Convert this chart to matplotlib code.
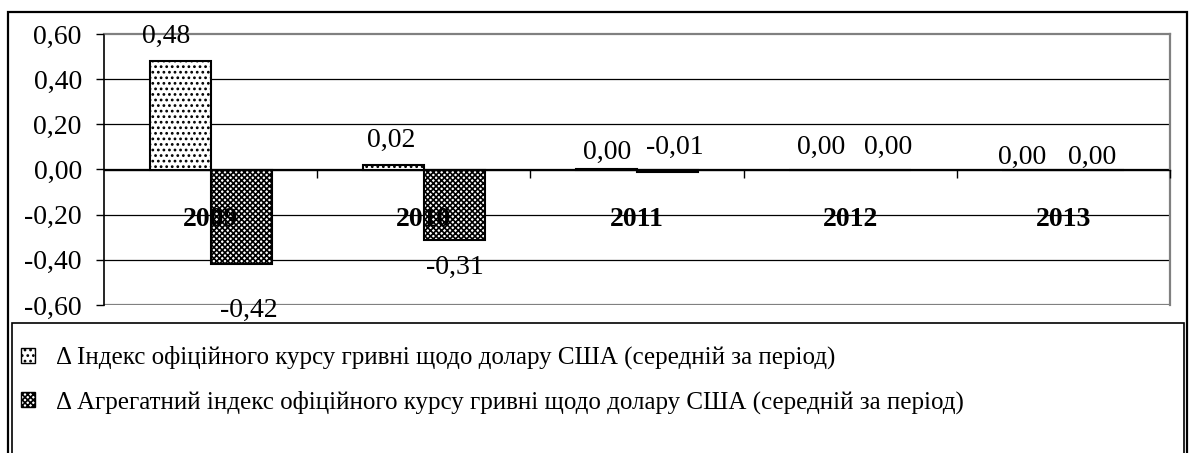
import numpy as np
import matplotlib
matplotlib.use("Agg")
import matplotlib.pyplot as plt
import matplotlib.patches as mpatches
from matplotlib.ticker import FixedLocator, FuncFormatter

plt.rcParams['font.family'] = ['Liberation Serif', 'DejaVu Serif']
plt.rcParams['hatch.linewidth'] = 1.2

# data
years = ['2009', '2010', '2011', '2012', '2013']
index_official = [0.48, 0.02, 0.004, 0.0, 0.0]
index_aggregate = [-0.42, -0.31, -0.01, 0.0, 0.0]
labels_official = ['0,48', '0,02', '0,00', '0,00', '0,00']
labels_aggregate = ['-0,42', '-0,31', '-0,01', '0,00', '0,00']
series_names = ['Δ Індекс офіційного курсу гривні щодо долару США (середній за період)',
                'Δ Агрегатний індекс офіційного курсу гривні щодо долару США (середній за період)']

# label offsets from bar end, in pixels (x right, y up)
off_official = [(-14, 25), (-2, 25), (1, 16), (1, 22), (-11, 12)]
off_aggregate = [(8, -46), (1, -28), (7, 24), (7, 22), (-2, 12)]

W, H = 1192, 453
fig = plt.figure(figsize=(W / 100, H / 100), dpi=100)
ax = fig.add_axes([104 / W, 1 - 305 / H, (1170 - 104) / W, (305 - 34) / H])
ax.spines['bottom'].set_position(('data', 0))
ax.set_axisbelow(False)  # year labels drawn over the bars

x = np.arange(len(years))
bw = 1 / 3.5
b1 = ax.bar(x - bw / 2, index_official, bw, facecolor='white', edgecolor='black',
            hatch='...', linewidth=1.5, zorder=2)
b2 = ax.bar(x + bw / 2, index_aggregate, bw, facecolor='white', edgecolor='black',
            hatch='xxxxxx', linewidth=1.5, zorder=2)

px = 0.72  # points per pixel
for bars, labs, offs in [(b1, labels_official, off_official), (b2, labels_aggregate, off_aggregate)]:
    for rect, lab, (dx, dy) in zip(bars, labs, offs):
        xc = rect.get_x() + rect.get_width() / 2
        yv = rect.get_y() + rect.get_height()
        ax.annotate(lab, (xc, yv), xytext=(dx * px, dy * px), textcoords='offset points',
                    ha='center', va='center', fontsize=20, zorder=5)

ax.set_xlim(-0.5, len(years) - 0.5)
ax.set_ylim(-0.6, 0.6)
yt = np.arange(-0.6, 0.61, 0.2)
ax.set_yticks(yt)
ax.yaxis.set_major_formatter(FuncFormatter(lambda v, p: f"{round(v, 2):.2f}".replace('.', ',').replace('-0,00', '0,00')))
ax.tick_params(axis='y', direction='out', length=6, width=1, pad=10, labelsize=20)

ax.set_xticks(x)
ax.xaxis.set_minor_locator(FixedLocator(x + 0.5))
ax.tick_params(axis='x', which='major', length=0, pad=27, labelsize=20)
ax.tick_params(axis='x', which='minor', direction='out', length=6, width=1)
ax.set_xticklabels(years, fontweight='bold', fontsize=20)

# gridlines below the bars
for v in yt[1:-1]:
    ax.axhline(v, color='black', linewidth=0.9, zorder=1)
ax.spines['bottom'].set_linewidth(1)
ax.spines['left'].set_linewidth(1.2)
for s in ['top', 'right']:
    ax.spines[s].set_color('#808080')
    ax.spines[s].set_linewidth(1.6)
ax.axhline(-0.6, color='#808080', linewidth=1.6, zorder=1)

# outer chart frame and legend frame
fig.patches.append(mpatches.Rectangle((8 / W, -0.1), (1187 - 8) / W, 1.1 - 12 / H,
                                      transform=fig.transFigure, fill=False,
                                      edgecolor='black', linewidth=1.6))
fig.patches.append(mpatches.Rectangle((12 / W, -0.1), (1184 - 12) / W, 0.1 + 1 - 323 / H,
                                      transform=fig.transFigure, fill=False,
                                      edgecolor='black', linewidth=1.2))

handles = [mpatches.Patch(facecolor='white', edgecolor='black', hatch='...'),
           mpatches.Patch(facecolor='white', edgecolor='black', hatch='xxxxxx')]
fig.legend(handles, series_names, loc='upper left', bbox_to_anchor=(21 / W, 1 - 346 / H),
           frameon=False, fontsize=18, handlelength=0.55, handleheight=0.55,
           handletextpad=0.85, labelspacing=0.85, borderaxespad=0, borderpad=0)

fig.savefig('out.png', dpi=100)
